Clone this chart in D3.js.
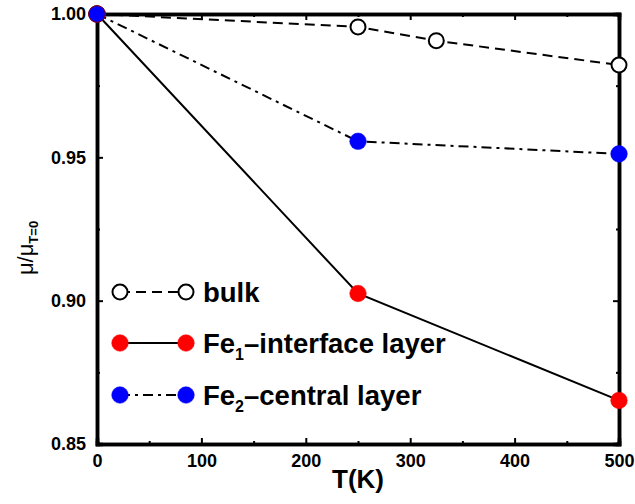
<!DOCTYPE html>
<html><head><meta charset="utf-8">
<script src="https://cdn.jsdelivr.net/npm/d3@7"></script>
<style>body{margin:0;background:#fff}svg{display:block}text{font-family:"Liberation Sans",Arial,sans-serif}</style>
</head><body>
<script>
const temps = [0, 250, 500];
const bulkT = [0, 250, 325, 500];
const bulkV = [1.0, 0.9955, 0.9907, 0.9822];
const fe1V = [1.0, 0.9025, 0.8652];
const fe2V = [1.0, 0.9556, 0.9512];
const xTicks = [0, 100, 200, 300, 400, 500];
const yTicks = [0.85, 0.90, 0.95, 1.00];

const W = 635, H = 504;
const m = {l: 97, r: 16, t: 14, b: 60};
const svg = d3.select("body").append("svg").attr("width", W).attr("height", H);
const x = d3.scaleLinear().domain([0, 500]).range([m.l, W - m.r]);
const y = d3.scaleLinear().domain([0.85, 1.0]).range([H - m.b, m.t]);

const g = svg.append("g");
const fmt = d3.format(".2f");
const bx = g.append("g").attr("transform", `translate(0,${y(0.85)})`)
  .call(d3.axisBottom(x).tickValues(xTicks).tickSize(-6).tickPadding(10));
g.append("g").attr("transform", `translate(0,${y(0.85)})`)
  .call(d3.axisBottom(x).tickValues(d3.range(50, 500, 100)).tickSize(-3).tickFormat(""));
g.append("g").attr("transform", `translate(0,${y(1.0)})`)
  .call(d3.axisTop(x).tickValues(xTicks).tickSize(-6).tickFormat(""));
g.append("g").attr("transform", `translate(0,${y(1.0)})`)
  .call(d3.axisTop(x).tickValues(d3.range(50, 500, 100)).tickSize(-3).tickFormat(""));
g.append("g").attr("transform", `translate(${x(0)},0)`)
  .call(d3.axisLeft(y).tickValues(yTicks).tickSize(-6).tickPadding(11).tickFormat(fmt));
g.append("g").attr("transform", `translate(${x(0)},0)`)
  .call(d3.axisLeft(y).tickValues([0.875, 0.925, 0.975]).tickSize(-3).tickFormat(""));
g.append("g").attr("transform", `translate(${x(500)},0)`)
  .call(d3.axisRight(y).tickValues(yTicks).tickSize(-6).tickFormat(""));
g.append("g").attr("transform", `translate(${x(500)},0)`)
  .call(d3.axisRight(y).tickValues([0.875, 0.925, 0.975]).tickSize(-3).tickFormat(""));
g.selectAll(".domain").attr("stroke-width", 3.5).attr("stroke", "#000");
g.selectAll(".tick line").attr("stroke-width", 2).attr("stroke", "#000");
g.selectAll(".tick text").attr("font-size", 18).attr("font-weight", "bold").attr("fill", "#000");
bx.selectAll(".tick text").attr("dy", "0.71em");

const line = d3.line().x(d => x(d[0])).y(d => y(d[1]));
const series = [
  {T: bulkT, V: bulkV, dash: "10,6", fill: "#fff", stroke: "#000"},
  {T: temps, V: fe1V, dash: null, fill: "#ff0000", stroke: "#ff0000"},
  {T: temps, V: fe2V, dash: "10,5,3,5", fill: "#0000ff", stroke: "#0000ff"}
];
series.forEach(s => {
  const pts = s.T.map((t, i) => [t, s.V[i]]);
  svg.append("path").attr("d", line(pts)).attr("fill", "none").attr("stroke", "#000")
    .attr("stroke-width", 2).attr("stroke-dasharray", s.dash);
});
series.forEach(s => {
  const pts = s.T.map((t, i) => [t, s.V[i]]);
  svg.selectAll(null).data(pts).enter().append("circle")
    .attr("cx", d => x(d[0])).attr("cy", d => y(d[1])).attr("r", s.fill === "#fff" ? 7.5 : 8.3)
    .attr("fill", s.fill).attr("stroke", s.fill === "#fff" ? "#000" : s.stroke)
    .attr("stroke-width", s.fill === "#fff" ? 2 : 0.5);
});
svg.append("circle").attr("cx", x(0)).attr("cy", y(1.0)).attr("r", 8.3).attr("fill", "#0000ff").attr("stroke", "#800000").attr("stroke-width", 1);

const legY = [292, 343, 395];
const labels = [["bulk", null, ""], ["Fe", "1", "\u2013interface layer"], ["Fe", "2", "\u2013central layer"]];
series.forEach((s, i) => {
  const yy = legY[i];
  svg.append("line").attr("x1", 120).attr("x2", 186).attr("y1", yy).attr("y2", yy)
    .attr("stroke", "#000").attr("stroke-width", 2).attr("stroke-dasharray", s.dash);
  [120, 186].forEach(cx => svg.append("circle").attr("cx", cx).attr("cy", yy)
    .attr("r", s.fill === "#fff" ? 7.5 : 8.3).attr("fill", s.fill)
    .attr("stroke", s.fill === "#fff" ? "#000" : s.stroke).attr("stroke-width", s.fill === "#fff" ? 2 : 0.5));
  const t = svg.append("text").attr("x", 203).attr("y", yy + 9.5).attr("font-size", 27.5).attr("font-weight", "bold").attr("fill", "#000");
  t.append("tspan").text(labels[i][0]);
  if (labels[i][1]) {
    t.append("tspan").attr("font-size", 16).attr("dy", 7).text(labels[i][1]);
    t.append("tspan").attr("dy", -7).text(labels[i][2]);
  }
});

svg.append("text").attr("x", (x(0) + x(500)) / 2).attr("y", 488).attr("text-anchor", "middle")
  .attr("font-size", 26).attr("font-weight", "bold").text("T(K)");
const yl = svg.append("text").attr("transform", "translate(33,248) rotate(-90)").attr("text-anchor", "middle")
  .attr("font-size", 22);
yl.append("tspan").text("\u03bc/\u03bc");
yl.append("tspan").attr("font-size", 13).attr("font-weight", "bold").attr("dy", 5).text("T=0");
</script>
</body></html>
